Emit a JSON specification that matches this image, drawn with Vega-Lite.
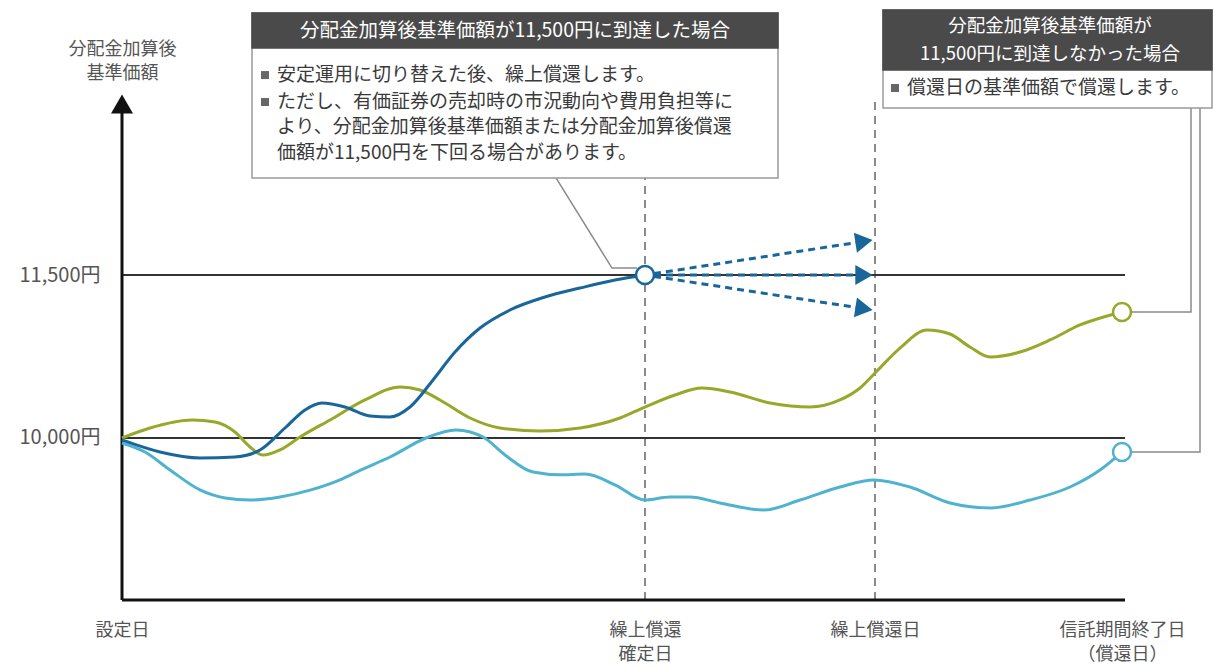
{
  "$schema": "https://vega.github.io/schema/vega-lite/v6.json",
  "width": 1092,
  "height": 600,
  "autosize": {"type": "none"},
  "padding": {"left": 122, "top": 0, "right": 0, "bottom": 66},
  "config": {
    "view": {"stroke": null},
    "font": "Noto Sans CJK JP",
    "text": {"font": "Noto Sans CJK JP"}
  },
  "datasets": {
    "curves": [
      {"series": "low", "t": 0, "v": 9954}, {"series": "low", "t": 2.3, "v": 9871}, {"series": "low", "t": 4.8, "v": 9706},
      {"series": "low", "t": 7.8, "v": 9522}, {"series": "low", "t": 10.3, "v": 9448}, {"series": "low", "t": 12.8, "v": 9429},
      {"series": "low", "t": 15.8, "v": 9457}, {"series": "low", "t": 18.9, "v": 9522}, {"series": "low", "t": 21.8, "v": 9614},
      {"series": "low", "t": 23.9, "v": 9706}, {"series": "low", "t": 26.8, "v": 9825}, {"series": "low", "t": 30.4, "v": 10000},
      {"series": "low", "t": 33.4, "v": 10074}, {"series": "low", "t": 36.1, "v": 10009}, {"series": "low", "t": 38.3, "v": 9844},
      {"series": "low", "t": 41.1, "v": 9687}, {"series": "low", "t": 43.8, "v": 9662}, {"series": "low", "t": 46.3, "v": 9668},
      {"series": "low", "t": 49.3, "v": 9568}, {"series": "low", "t": 52.3, "v": 9429}, {"series": "low", "t": 54.8, "v": 9457},
      {"series": "low", "t": 56.8, "v": 9457}, {"series": "low", "t": 59.8, "v": 9402}, {"series": "low", "t": 64.2, "v": 9337},
      {"series": "low", "t": 67.8, "v": 9429}, {"series": "low", "t": 71.8, "v": 9549}, {"series": "low", "t": 75.2, "v": 9614},
      {"series": "low", "t": 78.8, "v": 9549}, {"series": "low", "t": 82.8, "v": 9402}, {"series": "low", "t": 86.9, "v": 9356},
      {"series": "low", "t": 90.8, "v": 9429}, {"series": "low", "t": 94.8, "v": 9549}, {"series": "low", "t": 97.8, "v": 9706},
      {"series": "low", "t": 100, "v": 9871},
      {"series": "high", "t": 0, "v": 10000}, {"series": "high", "t": 2.8, "v": 10092}, {"series": "high", "t": 7, "v": 10166},
      {"series": "high", "t": 9.3, "v": 10147}, {"series": "high", "t": 11.3, "v": 10055}, {"series": "high", "t": 12.8, "v": 9917},
      {"series": "high", "t": 14.1, "v": 9843}, {"series": "high", "t": 15.8, "v": 9890}, {"series": "high", "t": 17.8, "v": 10009},
      {"series": "high", "t": 20.8, "v": 10166}, {"series": "high", "t": 24.3, "v": 10350}, {"series": "high", "t": 27.8, "v": 10469},
      {"series": "high", "t": 29.8, "v": 10442}, {"series": "high", "t": 31.8, "v": 10350}, {"series": "high", "t": 34.8, "v": 10184},
      {"series": "high", "t": 37.8, "v": 10092}, {"series": "high", "t": 41.8, "v": 10064}, {"series": "high", "t": 45.8, "v": 10092},
      {"series": "high", "t": 49.8, "v": 10184}, {"series": "high", "t": 52.3, "v": 10285}, {"series": "high", "t": 55.3, "v": 10396},
      {"series": "high", "t": 58, "v": 10460}, {"series": "high", "t": 60.8, "v": 10423}, {"series": "high", "t": 64.8, "v": 10322},
      {"series": "high", "t": 68.8, "v": 10285}, {"series": "high", "t": 71.8, "v": 10350}, {"series": "high", "t": 73.8, "v": 10460},
      {"series": "high", "t": 75.3, "v": 10598}, {"series": "high", "t": 77.8, "v": 10828}, {"series": "high", "t": 80.5, "v": 10994},
      {"series": "high", "t": 82.8, "v": 10957}, {"series": "high", "t": 84.8, "v": 10837}, {"series": "high", "t": 86.8, "v": 10745},
      {"series": "high", "t": 89.8, "v": 10791}, {"series": "high", "t": 92.8, "v": 10902}, {"series": "high", "t": 95.8, "v": 11040},
      {"series": "high", "t": 100, "v": 11160},
      {"series": "early", "t": 0, "v": 9982}, {"series": "early", "t": 3.8, "v": 9871}, {"series": "early", "t": 7.8, "v": 9816},
      {"series": "early", "t": 11.3, "v": 9825}, {"series": "early", "t": 13.8, "v": 9890}, {"series": "early", "t": 16.3, "v": 10092},
      {"series": "early", "t": 18.3, "v": 10258}, {"series": "early", "t": 20, "v": 10322}, {"series": "early", "t": 22.3, "v": 10285},
      {"series": "early", "t": 24.8, "v": 10202}, {"series": "early", "t": 26.8, "v": 10193}, {"series": "early", "t": 28.8, "v": 10285},
      {"series": "early", "t": 31.1, "v": 10534}, {"series": "early", "t": 33.3, "v": 10791}, {"series": "early", "t": 35.8, "v": 11012},
      {"series": "early", "t": 38.8, "v": 11178}, {"series": "early", "t": 42.3, "v": 11298}, {"series": "early", "t": 45.8, "v": 11380},
      {"series": "early", "t": 49.3, "v": 11454}, {"series": "early", "t": 52.3, "v": 11500}
    ],
    "levels": [
      {"t": 0, "t2": 100.3, "v": 10000},
      {"t": 0, "t2": 100.3, "v": 11500}
    ],
    "frame": [
      {"t": 0, "v": 8509, "t2": 0, "v2": 12991},
      {"t": 0, "v": 8509, "t2": 100.3, "v2": 8509}
    ],
    "dates": [
      {"t": 52.3, "v": 8509, "v2": 12512},
      {"t": 75.3, "v": 8509, "v2": 13110}
    ],
    "ends": [
      {"series": "early", "t": 52.3, "v": 11500},
      {"series": "high", "t": 100, "v": 11160},
      {"series": "low", "t": 100, "v": 9871}
    ],
    "paths": [
      {"rise": 1, "t": 53.2, "v": 11513, "t2": 73.6, "v2": 11801},
      {"rise": 0, "t": 53.2, "v": 11500, "t2": 73.6, "v2": 11500},
      {"rise": -1, "t": 53.2, "v": 11487, "t2": 73.6, "v2": 11199}
    ],
    "heads": [
      {"rise": 1, "t": 74.2, "v": 11809},
      {"rise": 0, "t": 74.2, "v": 11500},
      {"rise": -1, "t": 74.2, "v": 11191}
    ],
    "callouts": [
      {"id": "c1", "k": 1, "t": 43.4, "v": 12393}, {"id": "c1", "k": 2, "t": 49, "v": 11564}, {"id": "c1", "k": 3, "t": 51.5, "v": 11564},
      {"id": "c2", "k": 1, "t": 106.9, "v": 13037}, {"id": "c2", "k": 2, "t": 106.9, "v": 11160}, {"id": "c2", "k": 3, "t": 101, "v": 11160},
      {"id": "c3", "k": 1, "t": 107.8, "v": 13037}, {"id": "c3", "k": 2, "t": 107.8, "v": 9871}, {"id": "c3", "k": 3, "t": 101, "v": 9871}
    ],
    "boxes": [
      {"part": "body", "t": 13, "t2": 65.6, "v": 13911, "v2": 12393},
      {"part": "head", "t": 13, "t2": 65.6, "v": 13911, "v2": 13589},
      {"part": "body", "t": 76.1, "t2": 109, "v": 13939, "v2": 13037},
      {"part": "head", "t": 76.1, "t2": 109, "v": 13939, "v2": 13387}
    ],
    "heading": [
      {"t": 39.3, "v": 13745, "text": "分配金加算後基準価額が11,500円に到達した場合"}
    ],
    "heading2": [
      {"t": 92.8, "v": 13796, "text": "分配金加算後基準価額が"},
      {"t": 92.8, "v": 13538, "text": "11,500円に到達しなかった場合"}
    ],
    "bullets": [
      {"t": 14.3, "v": 13340}, {"t": 14.3, "v": 13092}, {"t": 77.3, "v": 13221}
    ],
    "notes": [
      {"t": 15.5, "v": 13340, "text": "安定運用に切り替えた後、繰上償還します。"},
      {"t": 15.5, "v": 13092, "text": "ただし、有価証券の売却時の市況動向や費用負担等に"},
      {"t": 15.5, "v": 12862, "text": "より、分配金加算後基準価額または分配金加算後償還"},
      {"t": 15.5, "v": 12623, "text": "価額が11,500円を下回る場合があります。"},
      {"t": 78.5, "v": 13221, "text": "償還日の基準価額で償還します。"}
    ]
  },
  "encoding": {
    "x": {
      "field": "t",
      "type": "quantitative",
      "scale": {"domain": [0, 109.2], "nice": false, "zero": false},
      "axis": {
        "values": [0, 52.3, 75.3, 100],
        "labelExpr": "datum.value < 1 ? '設定日' : datum.value > 99 ? ['信託期間終了日', '（償還日）'] : datum.value > 60 ? '繰上償還日' : ['繰上償還', '確定日']",
        "domain": false,
        "ticks": false,
        "grid": false,
        "title": null,
        "labelAngle": 0,
        "labelFlush": false,
        "labelOverlap": false,
        "labelPadding": 21,
        "labelBaseline": "top",
        "labelLineHeight": 24,
        "labelFontSize": 18,
        "labelColor": "#555"
      }
    },
    "y": {
      "field": "v",
      "type": "quantitative",
      "scale": {"domain": [8509, 14031], "nice": false, "zero": false},
      "axis": {
        "values": [10000, 11500],
        "labelExpr": "format(datum.value, ',') + '円'",
        "domain": false,
        "ticks": false,
        "grid": false,
        "labelFlush": false,
        "labelPadding": 22,
        "labelFontSize": 20,
        "labelColor": "#555",
        "title": ["分配金加算後", "基準価額"],
        "titleAngle": 0,
        "titleAlign": "center",
        "titleBaseline": "top",
        "titleX": 0,
        "titleY": 40,
        "titleLineHeight": 24,
        "titleFontSize": 18,
        "titleFontWeight": "normal",
        "titleColor": "#555"
      }
    }
  },
  "layer": [
    {
      "data": {"name": "dates"},
      "mark": {"type": "rule", "color": "#8a8a8a", "strokeWidth": 2, "strokeDash": [8, 6]},
      "encoding": {"y2": {"field": "v2"}}
    },
    {
      "data": {"name": "levels"},
      "mark": {"type": "rule", "color": "#333", "strokeWidth": 2},
      "encoding": {"x2": {"field": "t2"}}
    },
    {
      "data": {"name": "frame"},
      "mark": {"type": "rule", "color": "#111", "strokeWidth": 3},
      "encoding": {"x2": {"field": "t2"}, "y2": {"field": "v2"}}
    },
    {
      "data": {"values": [{"t": 0, "v": 13074}]},
      "mark": {"type": "point", "shape": "triangle-up", "filled": true, "size": 484, "color": "#111", "opacity": 1}
    },
    {
      "data": {"name": "curves"},
      "mark": {"type": "line", "interpolate": "monotone", "strokeWidth": 3},
      "encoding": {
        "color": {
          "field": "series",
          "type": "nominal",
          "scale": {"domain": ["low", "high", "early"], "range": ["#4fb3cf", "#97a82a", "#19669a"]},
          "legend": null
        },
        "order": {"field": "t", "type": "quantitative"}
      }
    },
    {
      "data": {"name": "callouts"},
      "mark": {"type": "line", "color": "#8a8a8a", "strokeWidth": 1.5},
      "encoding": {
        "detail": {"field": "id", "type": "nominal"},
        "order": {"field": "k", "type": "quantitative"}
      }
    },
    {
      "data": {"name": "paths"},
      "mark": {"type": "rule", "color": "#19669a", "strokeWidth": 3, "strokeDash": [7, 5]},
      "encoding": {"x2": {"field": "t2"}, "y2": {"field": "v2"}}
    },
    {
      "data": {"name": "heads"},
      "mark": {"type": "point", "shape": "triangle-right", "filled": true, "size": 400, "color": "#19669a", "opacity": 1},
      "encoding": {
        "angle": {"field": "rise", "type": "quantitative", "scale": {"domain": [-1, 1], "range": [8.7, -8.7]}, "legend": null}
      }
    },
    {
      "data": {"name": "ends"},
      "mark": {"type": "point", "shape": "circle", "filled": false, "fill": "white", "fillOpacity": 1, "size": 324, "strokeWidth": 2.5, "opacity": 1},
      "encoding": {
        "stroke": {
          "field": "series",
          "type": "nominal",
          "scale": {"domain": ["low", "high", "early"], "range": ["#4fb3cf", "#97a82a", "#19669a"]},
          "legend": null
        }
      }
    },
    {
      "data": {"name": "boxes"},
      "transform": [{"filter": "datum.part == 'body'"}],
      "mark": {"type": "rect", "fill": "white", "stroke": "#9a9a9a", "strokeWidth": 1.5},
      "encoding": {"x2": {"field": "t2"}, "y2": {"field": "v2"}}
    },
    {
      "data": {"name": "boxes"},
      "transform": [{"filter": "datum.part == 'head'"}],
      "mark": {"type": "rect", "fill": "#4a4a4a", "stroke": "#4a4a4a", "strokeWidth": 1.5},
      "encoding": {"x2": {"field": "t2"}, "y2": {"field": "v2"}}
    },
    {
      "data": {"name": "heading"},
      "mark": {"type": "text", "color": "white", "fontSize": 19.5, "align": "center", "baseline": "middle"},
      "encoding": {"text": {"field": "text"}}
    },
    {
      "data": {"name": "heading2"},
      "mark": {"type": "text", "color": "white", "fontSize": 18.5, "align": "center", "baseline": "middle"},
      "encoding": {"text": {"field": "text"}}
    },
    {
      "data": {"name": "bullets"},
      "mark": {"type": "square", "color": "#666", "size": 64, "opacity": 1}
    },
    {
      "data": {"name": "notes"},
      "mark": {"type": "text", "color": "#3a3a3a", "fontSize": 19, "align": "left", "baseline": "middle"},
      "encoding": {"text": {"field": "text"}}
    }
  ]
}
